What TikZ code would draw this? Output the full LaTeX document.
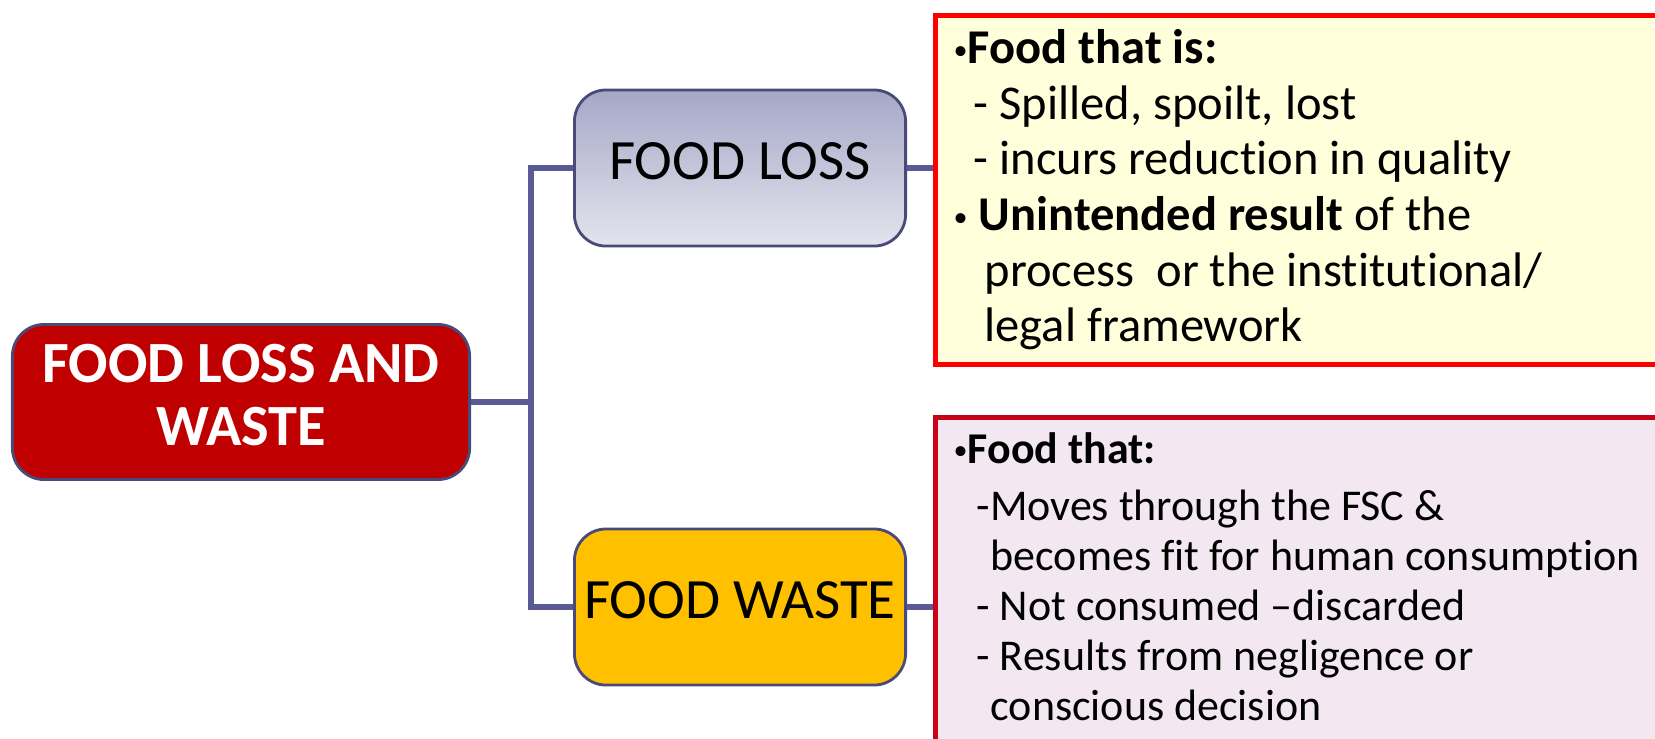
\documentclass[tikz,border=0pt]{standalone}
\usepackage{fontspec}
\setmainfont{Carlito}[Ligatures={TeX,NoCommon}]
\usetikzlibrary{positioning}
\definecolor{linkblue}{HTML}{5A5A96}
\definecolor{edgeblue}{HTML}{4A4A78}
\definecolor{rootred}{HTML}{C00000}
\definecolor{losstop}{HTML}{A6A7C7}
\definecolor{lossbot}{HTML}{E4E4EE}
\definecolor{wasteamber}{HTML}{FFC000}
\definecolor{noteyellow}{HTML}{FFFFDC}
\definecolor{notepink}{HTML}{F3E7F1}
\definecolor{redline}{HTML}{FF0000}
\definecolor{darkredline}{HTML}{C80018}
\newcommand\dotmark{\raisebox{1.2pt}{\fontsize{8}{8}\selectfont\textbullet}}
\begin{document}
\begin{tikzpicture}[x=0.01cm, y=-0.01cm,
    link/.style={draw=linkblue, line width=1.8pt},
    topic/.style={draw=edgeblue, line width=0.8pt, rounded corners=9pt,
      minimum width=3.31cm, minimum height=1.56cm, inner sep=0pt,
      text depth=4.2pt, font=\fontsize{16.2}{19}\selectfont},
    note/.style={line width=1.3pt, anchor=north west, inner sep=0pt,
      minimum width=8cm},
    notetext/.style={anchor=north west, inner sep=0pt, align=left}]
  \useasboundingbox (0,0) rectangle (1655,738);
  \clip (0,0) rectangle (1655,738);
  % root
  \node[topic, fill=rootred, text=white, minimum width=4.57cm,
    minimum height=1.55cm, align=center,
    font=\fontsize{16.6}{18}\selectfont\bfseries] (root) at (241,402)
    {FOOD LOSS AND\\WASTE};
  % branches
  \node[topic, top color=losstop, bottom color=lossbot] (loss) at (740,168) {FOOD LOSS};
  \node[topic, fill=wasteamber] (waste) at (740,607) {FOOD WASTE};
  % notes
  \node[note, draw=redline, fill=noteyellow, minimum height=3.49cm] (lossnote) at (933,13) {};
  \node[note, draw=darkredline, fill=notepink, minimum height=3.9cm] (wastenote) at (933,415) {};
  \node[notetext, font=\fontsize{13.8}{15.8}\selectfont] (losstext) at (953,29)
    {\dotmark\textbf{Food that is:}\\
     \hspace*{5.7pt}- Spilled, spoilt, lost\\
     \hspace*{5.7pt}- incurs reduction in quality\\
     \dotmark{} \textbf{Unintended result} of the\\
     \hspace*{8.8pt}process\ \ or the institutional/\\
     \hspace*{8.8pt}legal framework};
  \node[notetext, font=\fontsize{12.5}{14.2}\selectfont] (wastetext) at (953,432)
    {\dotmark\textbf{Food that:}\\[2pt]
     \hspace*{6.5pt}-Moves through the FSC \&\\
     \hspace*{10.5pt}becomes fit for human consumption\\
     \hspace*{6.5pt}- Not consumed --discarded\\
     \hspace*{6.5pt}- Results from negligence or\\
     \hspace*{10.5pt}conscious decision};
  % connectors
  \coordinate (spine) at (531,402);
  \draw[link] (root.east) -- (spine);
  \draw[link] (loss.west) -| (spine) |- (waste.west);
  \draw[link] (loss.east) -- (loss.east -| lossnote.west);
  \draw[link] (waste.east) -- (waste.east -| wastenote.west);
\end{tikzpicture}
\end{document}
